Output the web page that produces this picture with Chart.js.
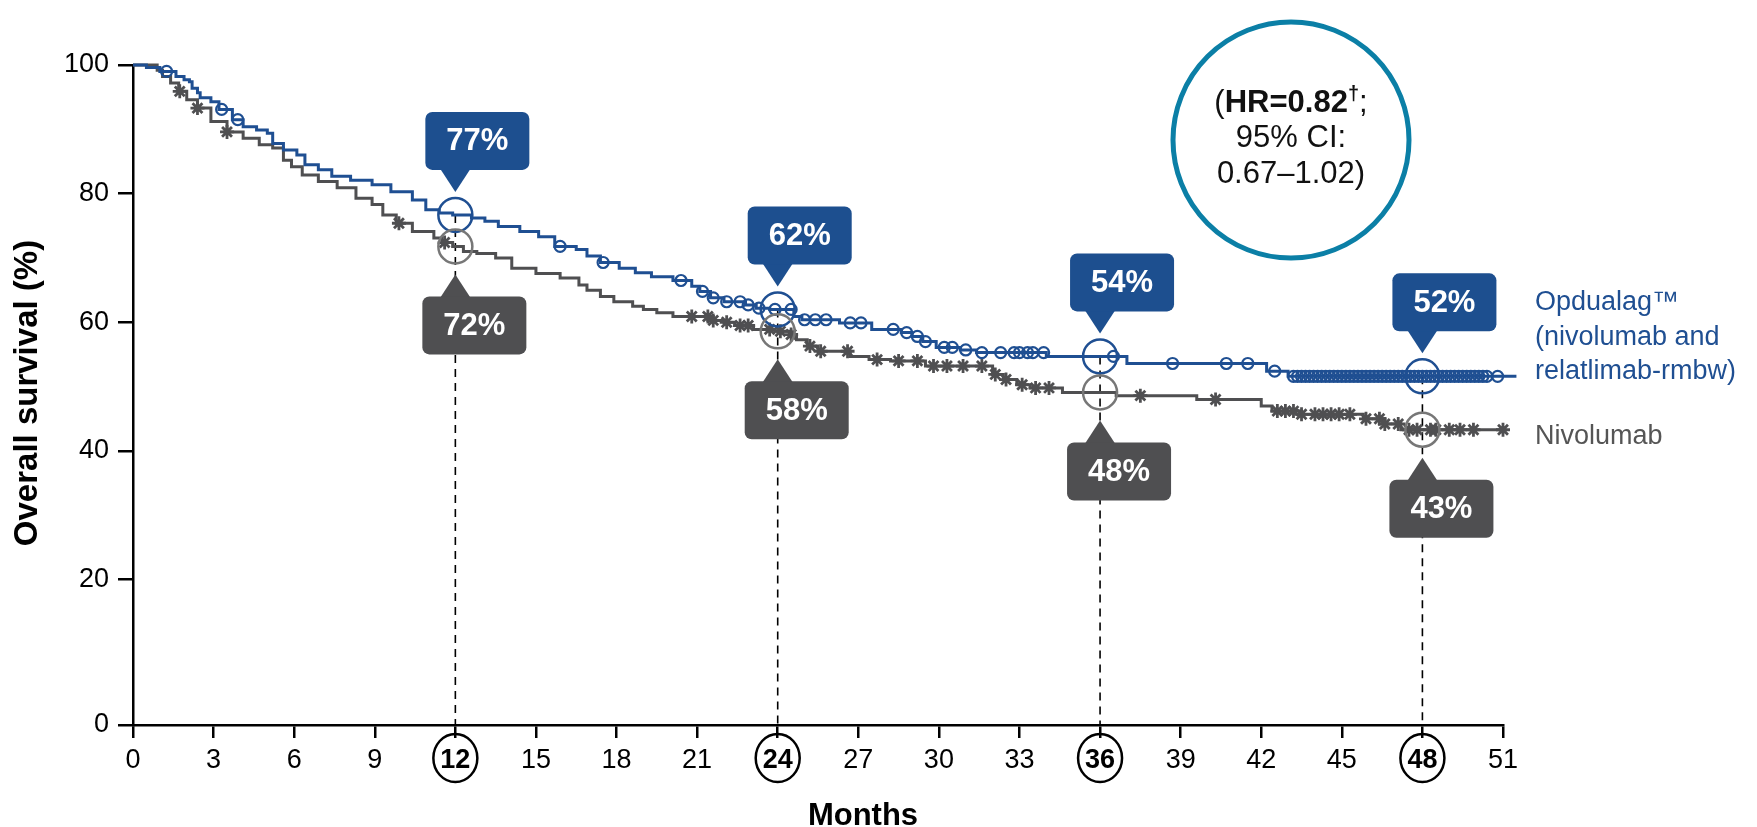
<!DOCTYPE html>
<html>
<head>
    <meta charset="utf-8" />
    <script src="https://cdn.jsdelivr.net/npm/chart.js@4"></script>
    <style>
        html, body { margin: 0; padding: 0; background: white; }
        #wrap { width: 1757px; height: 827px; }
    </style>
</head>
<body>
    <div id="wrap"><canvas id="osChart" width="1757" height="827"></canvas></div>

    <script>
        // Kaplan-Meier steps: month of event and survival (%) after it
        const opdTimes = [0, 0.5, 1.0, 1.6, 1.9, 2.1, 2.2, 2.4, 2.5, 2.9, 3.2, 3.7, 4.1, 4.6, 5.0, 5.2, 5.6, 6.1, 6.4, 6.9,
            7.4, 8.1, 8.9, 9.6, 10.4, 10.9, 11.4, 11.9, 12.6, 13.1, 13.6, 14.4, 15.1, 15.7, 16.5, 16.9, 17.4, 18.1, 18.7, 19.3,
            20.1, 20.8, 21.1, 21.5, 22.0, 22.8, 23.2, 23.7, 24.6, 24.9, 26.3, 27.5, 28.6, 29.0, 29.4, 29.9, 30.8, 31.4, 34.0, 37.0,
            42.2, 43.0, 51.5];
        const opdSurv = [100, 99.6, 99.0, 98.2, 97.7, 97.4, 96.4, 95.7, 94.9, 94.3, 93.1, 91.5, 90.4, 89.9, 89.4, 87.8, 86.8, 86.0, 84.5, 83.7,
            82.7, 82.1, 81.4, 80.3, 79.0, 77.5, 77.0, 76.7, 76.2, 75.7, 74.9, 74.1, 73.3, 71.8, 71.3, 70.3, 69.3, 68.4, 67.7, 67.1,
            66.5, 65.6, 64.8, 63.8, 63.2, 62.7, 62.2, 62.0, 60.9, 60.4, 59.9, 58.9, 58.4, 57.8, 57.0, 56.1, 55.7, 55.3, 54.7, 53.6,
            52.4, 51.6, 51.6];
        const opdCensor = [1.25, 3.3, 3.9, 15.9, 17.5, 20.4, 21.2, 21.6, 22.1, 22.6, 22.9, 23.3, 23.9, 24.5, 25.0, 25.4, 25.8,
            26.7, 27.1, 28.3, 28.8, 29.2, 29.5, 30.2, 30.5, 31.0, 31.6, 32.3, 32.8, 33.0, 33.3, 33.5, 33.9, 36.5, 38.7, 40.7,
            41.5, 42.5, 43.2, 43.35, 43.5, 43.65, 43.8, 43.95, 44.1, 44.25, 44.4, 44.55, 44.7, 44.85, 45.0, 45.15, 45.3, 45.45,
            45.6, 45.75, 45.9, 46.05, 46.2, 46.35, 46.5, 46.65, 46.8, 46.95, 47.1, 47.25, 47.4, 47.55, 47.7, 47.85, 48.0, 48.15,
            48.3, 48.45, 48.6, 48.75, 48.9, 49.05, 49.2, 49.35, 49.5, 49.65, 49.8, 49.95, 50.1, 50.25, 50.4, 50.8, 51.5];

        const nivoTimes = [0, 0.9, 1.1, 1.4, 1.7, 2.0, 2.4, 2.9, 3.5, 4.1, 4.7, 5.2, 5.6, 5.9, 6.3, 6.9, 7.6, 8.3, 8.9, 9.3,
            9.8, 10.4, 11.2, 11.5, 11.9, 12.3, 12.8, 13.5, 14.1, 15.0, 15.9, 16.6, 16.9, 17.4, 17.9, 18.6, 19.0, 19.5, 20.1, 21.5,
            22.0, 22.4, 23.1, 23.9, 24.5, 24.7, 25.1, 25.5, 26.7, 27.4, 28.2, 29.5, 32.0, 32.4, 32.9, 33.4, 34.6, 36.6, 39.6, 42.0,
            42.4, 43.5, 45.8, 46.6, 47.2, 51.0];
        const nivoSurv = [100, 99.2, 98.2, 97.2, 95.9, 94.6, 93.3, 91.2, 89.6, 88.6, 87.6, 87.1, 85.2, 84.2, 82.9, 81.9, 80.9, 79.3, 78.3, 76.7,
            75.4, 74.1, 73.1, 72.4, 71.8, 71.0, 70.7, 70.0, 68.4, 67.6, 66.9, 65.8, 65.0, 64.0, 63.2, 62.5, 62.0, 61.5, 60.9, 60.3,
            60.0, 59.5, 58.9, 58.6, 58.1, 57.3, 56.3, 55.5, 54.7, 54.2, 54.0, 53.2, 51.9, 51.1, 50.3, 49.8, 49.1, 48.6, 48.0, 47.0,
            46.2, 45.7, 45.0, 44.2, 43.3, 43.3];
        const nivoCensor = [1.74, 2.4, 3.5, 9.9, 11.6, 20.8, 21.4, 21.6, 22.1, 22.6, 22.9, 23.7, 24.1, 24.5, 25.2, 25.6, 26.6,
            27.7, 28.5, 29.2, 29.8, 30.3, 30.9, 31.6, 32.1, 32.5, 33.1, 33.6, 34.1, 37.5, 40.3, 42.6, 42.9, 43.2, 43.5, 44.0,
            44.3, 44.6, 44.9, 45.3, 45.9, 46.4, 46.6, 47.1, 47.5, 47.8, 48.3, 48.5, 49.0, 49.4, 49.9, 51.0];

        const milestoneMonths = [12, 24, 36, 48];
        const opdMilestone = ['77%', '62%', '54%', '52%'];
        const nivoMilestone = ['72%', '58%', '48%', '43%'];

        const xTicks = [0, 3, 6, 9, 12, 15, 18, 21, 24, 27, 30, 33, 36, 39, 42, 45, 48, 51];
        const yTicks = [0, 20, 40, 60, 80, 100];
        const yBottom = -2.6; // axis break: the "0" sits a little below the regular spacing

        const BLUE = '#1f4f92';
        const GREY = '#4f4f51';
        const FONT = "'Liberation Sans', Arial, sans-serif";

        function survAt(times, surv, t) {
            let s = surv[0];
            for (let i = 0; i < times.length; i++) {
                if (times[i] <= t) s = surv[i];
            }
            return s;
        }

        const opdLine = opdTimes.map((t, i) => ({ x: t, y: opdSurv[i] }));
        const nivoLine = nivoTimes.map((t, i) => ({ x: t, y: nivoSurv[i] }));
        const opdMarks = opdCensor.map(t => ({ x: t, y: survAt(opdTimes, opdSurv, t) }));
        const nivoMarks = nivoCensor.map(t => ({ x: t, y: survAt(nivoTimes, nivoSurv, t) }));

        function callout(ctx, cx, tipY, up, text, color) {
            const w = 104, h = 58;
            let left, top;
            ctx.fillStyle = color;
            ctx.beginPath();
            if (up) {
                // box above the point, pointer downwards
                left = cx - 30;
                top = tipY - 22 - h;
                ctx.moveTo(cx - 15, tipY - 23);
                ctx.lineTo(cx + 15, tipY - 23);
                ctx.lineTo(cx, tipY);
            } else {
                left = cx - 33;
                top = tipY + 22;
                ctx.moveTo(cx - 15, tipY + 23);
                ctx.lineTo(cx + 15, tipY + 23);
                ctx.lineTo(cx, tipY);
            }
            ctx.closePath();
            ctx.fill();
            ctx.beginPath();
            ctx.roundRect(left, top, w, h, 7);
            ctx.fill();
            ctx.fillStyle = '#fff';
            ctx.font = 'bold 31px ' + FONT;
            ctx.textAlign = 'center';
            ctx.textBaseline = 'middle';
            ctx.fillText(text, left + w / 2, top + h / 2 + 1);
        }

        const extras = {
            id: 'extras',
            beforeDatasetsDraw(chart) {
                const { ctx, scales: { x, y } } = chart;
                ctx.save();
                ctx.strokeStyle = '#000';
                ctx.lineWidth = 1.6;
                ctx.setLineDash([8, 6]);
                milestoneMonths.forEach(m => {
                    const px = x.getPixelForValue(m);
                    ctx.beginPath();
                    ctx.moveTo(px, y.getPixelForValue(survAt(opdTimes, opdSurv, m)));
                    ctx.lineTo(px, y.bottom);
                    ctx.stroke();
                });
                ctx.restore();
            },
            afterDatasetsDraw(chart) {
                const { ctx, scales: { x, y } } = chart;
                ctx.save();

                // milestone rings and callouts
                milestoneMonths.forEach((m, i) => {
                    const px = x.getPixelForValue(m);
                    const by = y.getPixelForValue(survAt(opdTimes, opdSurv, m));
                    const gy = y.getPixelForValue(survAt(nivoTimes, nivoSurv, m));
                    ctx.lineWidth = 2.5;
                    ctx.strokeStyle = BLUE;
                    ctx.beginPath();
                    ctx.arc(px, by, 17, 0, Math.PI * 2);
                    ctx.stroke();
                    ctx.strokeStyle = '#777';
                    ctx.beginPath();
                    ctx.arc(px, gy, 17, 0, Math.PI * 2);
                    ctx.stroke();
                    callout(ctx, px, by - 23, true, opdMilestone[i], '#1d4f8f');
                    callout(ctx, px, gy + 28, false, nivoMilestone[i], GREY);

                    // ring around the milestone tick label
                    ctx.strokeStyle = '#000';
                    ctx.lineWidth = 2.5;
                    ctx.beginPath();
                    ctx.ellipse(px, 758, 22, 24, 0, 0, Math.PI * 2);
                    ctx.stroke();
                });

                // hazard ratio bubble
                const hx = 1291, hy = 140;
                ctx.strokeStyle = '#0b7fa6';
                ctx.lineWidth = 5;
                ctx.beginPath();
                ctx.arc(hx, hy, 118, 0, Math.PI * 2);
                ctx.stroke();
                ctx.fillStyle = '#111';
                ctx.textBaseline = 'middle';
                ctx.textAlign = 'left';
                const parts = [
                    ['(', 'normal 31px ', 0],
                    ['HR=0.82', 'bold 31px ', 0],
                    ['\u2020', 'bold 20px ', -9],
                    [';', 'normal 31px ', 0]
                ];
                let total = 0;
                parts.forEach(p => { ctx.font = p[1] + FONT; total += ctx.measureText(p[0]).width; });
                let cx = hx - total / 2;
                parts.forEach(p => {
                    ctx.font = p[1] + FONT;
                    ctx.fillText(p[0], cx, hy - 37 + p[2]);
                    cx += ctx.measureText(p[0]).width;
                });
                ctx.textAlign = 'center';
                ctx.font = 'normal 31px ' + FONT;
                ctx.fillText('95% CI:', hx, hy - 2);
                ctx.fillText('0.67\u20131.02)', hx, hy + 34);

                // series labels
                ctx.textAlign = 'left';
                ctx.font = 'normal 27px ' + FONT;
                ctx.fillStyle = BLUE;
                ctx.fillText('Opdualag\u2122', 1535, 303);
                ctx.fillText('(nivolumab and', 1535, 338);
                ctx.fillText('relatlimab-rmbw)', 1535, 372);
                ctx.fillStyle = '#555';
                ctx.fillText('Nivolumab', 1535, 437);

                // axis titles
                ctx.fillStyle = '#000';
                ctx.font = 'bold 31px ' + FONT;
                ctx.textAlign = 'center';
                ctx.fillText('Months', 863, 816);
                ctx.save();
                ctx.translate(28, 393);
                ctx.rotate(-Math.PI / 2);
                ctx.font = 'bold 33px ' + FONT;
                ctx.fillText('Overall survival (%)', 0, 0);
                ctx.restore();

                ctx.restore();
            }
        };

        new Chart(
            document.getElementById('osChart'),
            {
                type: 'line',
                data: {
                    datasets: [
                        {
                            type: 'scatter',
                            data: opdMarks,
                            showLine: false,
                            pointStyle: 'circle',
                            pointRadius: 5.5,
                            pointBorderWidth: 2.2,
                            borderColor: BLUE,
                            backgroundColor: 'rgba(0,0,0,0)',
                            clip: false
                        },
                        {
                            data: opdLine,
                            stepped: true,
                            borderColor: BLUE,
                            borderWidth: 3,
                            pointRadius: 0,
                            fill: false,
                            clip: false
                        },
                        {
                            type: 'scatter',
                            data: nivoMarks,
                            showLine: false,
                            pointStyle: 'star',
                            pointRadius: 7,
                            pointBorderWidth: 2.8,
                            borderColor: GREY,
                            backgroundColor: GREY,
                            clip: false
                        },
                        {
                            data: nivoLine,
                            stepped: true,
                            borderColor: GREY,
                            borderWidth: 3,
                            pointRadius: 0,
                            fill: false,
                            clip: false
                        }
                    ]
                },
                options: {
                    responsive: false,
                    animation: false,
                    devicePixelRatio: 1,
                    layout: {
                        padding: { left: 0, right: 254, top: 65, bottom: 0 }
                    },
                    plugins: {
                        legend: { display: false },
                        tooltip: { enabled: false }
                    },
                    scales: {
                        x: {
                            type: 'linear',
                            min: 0,
                            max: 51,
                            afterBuildTicks: axis => { axis.ticks = xTicks.map(v => ({ value: v })); },
                            afterFit: axis => { axis.height = 102; },
                            ticks: {
                                autoSkip: false,
                                maxRotation: 0,
                                padding: 6,
                                color: '#000',
                                font: c => ({
                                    family: FONT,
                                    size: 27,
                                    weight: milestoneMonths.includes(c.tick && c.tick.value) ? 'bold' : 'normal'
                                })
                            },
                            grid: { drawOnChartArea: false, tickLength: 13, color: '#000', lineWidth: 2.5 },
                            border: { color: '#000', width: 2.5 }
                        },
                        y: {
                            min: yBottom,
                            max: 100,
                            afterBuildTicks: axis => {
                                axis.ticks = yTicks.map(v => ({ value: v === 0 ? yBottom : v }));
                            },
                            afterFit: axis => { axis.width = 133; },
                            ticks: {
                                padding: 9,
                                color: '#000',
                                font: { family: FONT, size: 27 },
                                callback: v => (v <= 0 ? '0' : v)
                            },
                            grid: { drawOnChartArea: false, tickLength: 15, color: '#000', lineWidth: 2.5 },
                            border: { color: '#000', width: 2.5 }
                        }
                    }
                },
                plugins: [extras]
            }
        );
    </script>
</body>
</html>
